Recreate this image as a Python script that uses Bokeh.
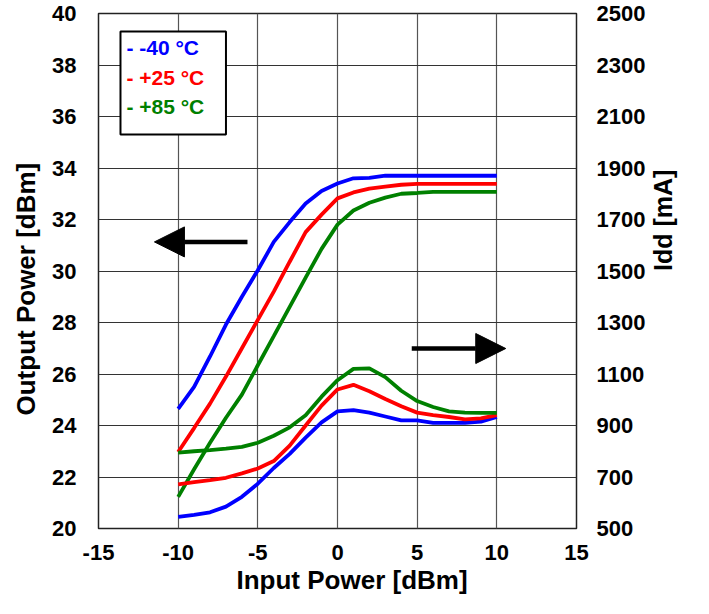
import math
from bokeh.plotting import figure
from bokeh.models import (Range1d, LinearAxis, FixedTicker, BoxAnnotation, Label,
                          Arrow, NormalHead, CustomJSTickFormatter, Title)
from bokeh.embed import file_html
from bokeh.resources import INLINE

# ---------------- data ----------------
pin = [-10, -9, -8, -7, -6, -5, -4, -3, -2, -1, 0, 1, 2, 3, 4, 5, 6, 7, 8, 9, 10]

pout_m40 = [24.65, 25.5, 26.68, 27.92, 29.0, 30.03, 31.13, 31.9, 32.62, 33.11, 33.4,
            33.6, 33.62, 33.7, 33.7, 33.7, 33.7, 33.7, 33.7, 33.7, 33.7]
pout_p25 = [22.97, 23.9, 24.85, 25.9, 27.0, 28.1, 29.2, 30.36, 31.51, 32.19, 32.82,
            33.05, 33.2, 33.28, 33.35, 33.38, 33.38, 33.38, 33.38, 33.38, 33.38]
pout_p85 = [21.23, 22.3, 23.33, 24.3, 25.2, 26.34, 27.47, 28.61, 29.74, 30.86, 31.8,
            32.35, 32.65, 32.85, 33.0, 33.03, 33.07, 33.07, 33.07, 33.07, 33.07]

idd_m40 = [545, 553, 563, 585, 623, 674, 735, 790, 853, 912, 955,
           960, 950, 935, 920, 920, 910, 910, 910, 915, 933]
idd_p25 = [671, 680, 688, 697, 714, 733, 762, 822, 900, 977, 1040,
           1058, 1033, 1003, 975, 950, 940, 933, 924, 928, 940]
idd_p85 = [795, 800, 804, 810, 817, 833, 860, 893, 940, 1012, 1076,
           1120, 1122, 1088, 1035, 995, 972, 955, 950, 949, 949]

series_names = ["- -40 \u00b0C", "- +25 \u00b0C", "- +85 \u00b0C"]
series_colors = ["#0000FF", "#FF0000", "#008000"]

x_ticks = [-15, -10, -5, 0, 5, 10, 15]
y_ticks = [20, 22, 24, 26, 28, 30, 32, 34, 36, 38, 40]
idd_ticks = [500, 700, 900, 1100, 1300, 1500, 1700, 1900, 2100, 2300, 2500]

x_title = "Input Power [dBm]"
y_title = "Output Power [dBm]"
y2_title = "Idd [mA]"

FONT = "Liberation Sans"

p = figure(width=693, height=598, output_backend="svg", toolbar_location=None,
           x_range=Range1d(-15, 15), y_range=Range1d(20, 40),
           min_border_left=98, min_border_right=111, min_border_top=13, min_border_bottom=70)
p.extra_y_ranges = {"idd": Range1d(500, 2500)}

p.outline_line_color = "#222222"
p.outline_line_width = 1.5
p.background_fill_color = "white"
p.border_fill_color = "white"

fmt = CustomJSTickFormatter(code="return tick.toString();")
blank = CustomJSTickFormatter(code="return '';")

# axes
p.xaxis.ticker = FixedTicker(ticks=x_ticks)
p.yaxis.ticker = FixedTicker(ticks=y_ticks)
p.xaxis.formatter = fmt
p.yaxis.formatter = fmt

right = LinearAxis(y_range_name="idd", ticker=FixedTicker(ticks=idd_ticks), formatter=fmt)
p.add_layout(right, "right")

# second right axis that only carries the (upward reading) title
right_title = LinearAxis(ticker=FixedTicker(ticks=[]), formatter=blank, axis_label=y2_title)
p.add_layout(right_title, "right")

for ax in [p.xaxis[0], p.yaxis[0], right, right_title]:
    ax.axis_line_color = None
    ax.major_tick_line_color = None
    ax.minor_tick_line_color = None
    ax.major_tick_out = 0
    ax.major_tick_in = 0
    ax.major_label_text_font = FONT
    ax.major_label_text_font_style = "bold"
    ax.major_label_text_font_size = "22px"
    ax.major_label_text_color = "black"
    ax.axis_label_text_font = FONT
    ax.axis_label_text_font_style = "bold"
    ax.axis_label_text_font_size = "25px"
    ax.axis_label_text_color = "black"

p.xaxis.major_label_standoff = 16
p.yaxis.major_label_standoff = 22
right.major_label_standoff = 20
right_title.major_label_standoff = 0
right_title.axis_label_standoff = 14
right_title.axis_label_orientation = math.pi / 2
right_title.axis_label_text_align = "center"
right_title.axis_label_text_baseline = "top"

# axis titles as side titles
title_kw = dict(text_font=FONT, text_font_style="bold", text_font_size="26px",
                text_color="black", align="left")
p.add_layout(Title(text=x_title, offset=138, standoff=0, **title_kw), "below")
p.add_layout(Title(text=y_title, offset=113, standoff=17, **title_kw), "left")

# grid
p.xgrid.ticker = FixedTicker(ticks=x_ticks)
p.ygrid.ticker = FixedTicker(ticks=y_ticks)
p.xgrid.grid_line_color = "#555555"
p.ygrid.grid_line_color = "#333333"
p.xgrid.grid_line_width = 1.2
p.ygrid.grid_line_width = 1

# curves
for ys, c in zip([pout_m40, pout_p25, pout_p85], series_colors):
    p.line(pin, ys, line_color=c, line_width=3.8)
for ys, c in zip([idd_m40, idd_p25, idd_p85], series_colors):
    p.line(pin, ys, line_color=c, line_width=3.8, y_range_name="idd")

# arrows
p.add_layout(Arrow(end=NormalHead(size=30, fill_color="black", line_color="black"),
                   x_start=-5.65, y_start=31.13, x_end=-11.49, y_end=31.13,
                   line_width=4.5, line_color="black"))
p.add_layout(Arrow(end=NormalHead(size=30, fill_color="black", line_color="black"),
                   x_start=4.66, y_start=26.99, x_end=10.56, y_end=26.99,
                   line_width=4.5, line_color="black"))

# legend box
p.add_layout(BoxAnnotation(left=-13.62, right=-7.0, top=39.30, bottom=35.30,
                           fill_color="white", fill_alpha=1.0,
                           line_color="black", line_width=2, line_alpha=1.0))
legend_y = [38.69, 37.52, 36.38]
for name, c, ly in zip(series_names, series_colors, legend_y):
    p.add_layout(Label(x=-13.25, y=ly, text=name, text_color=c,
                       text_font=FONT, text_font_style="bold",
                       text_font_size="21px", text_baseline="middle"))

open("out.html", "w").write(file_html(p, INLINE))
